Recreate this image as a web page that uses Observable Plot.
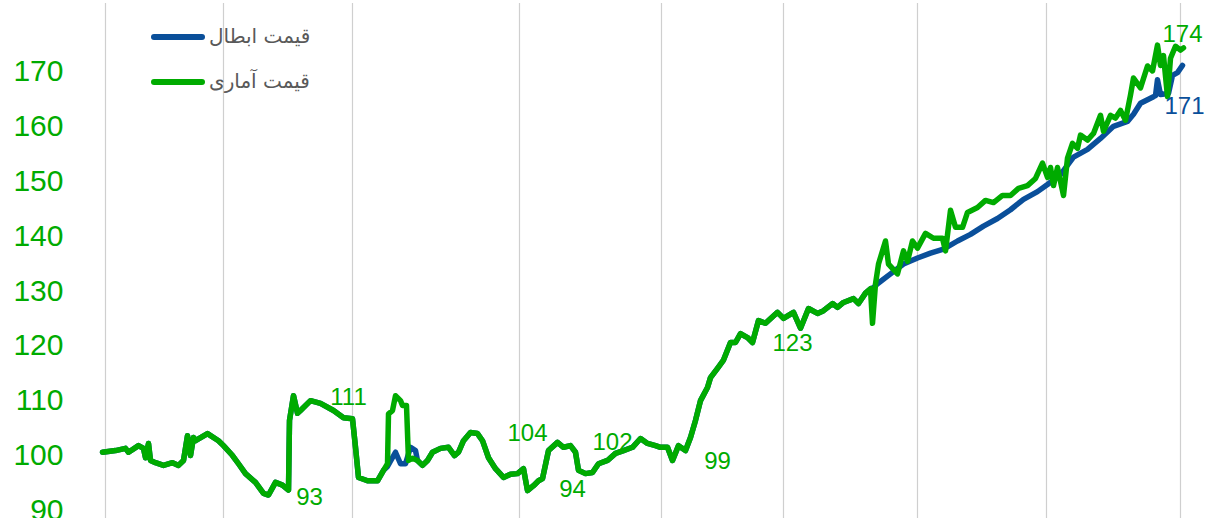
<!DOCTYPE html>
<html>
<head>
<meta charset="utf-8">
<script src="https://cdn.jsdelivr.net/npm/d3@7"></script>
<script src="https://cdn.jsdelivr.net/npm/@observablehq/plot@0.6"></script>
<style>
  html, body { margin: 0; padding: 0; background: #fff; }
  #wrap { position: relative; width: 1212px; height: 518px; font-family: "Liberation Sans", Arial, sans-serif; }
  .leg-line { position: absolute; height: 6px; border-radius: 3px; width: 54px; left: 151px; }
  .leg-text { position: absolute; left: 209px; font-family: "DejaVu Sans", "Liberation Sans", sans-serif; font-size: 20px; color: #595959; line-height: 22px; white-space: nowrap; }
</style>
</head>
<body>
<div id="wrap">
  <div id="chart"></div>
  <div class="leg-line" style="top:34px;background:#0a4f9a"></div>
  <div class="leg-text" dir="rtl" style="top:25px">قیمت ابطال</div>
  <div class="leg-line" style="top:79px;background:#00ab00"></div>
  <div class="leg-text" dir="rtl" style="top:70px">قیمت آماری</div>
</div>
<script>
// قیمت آماری (statistical price) – green series
const statDay = [0,13,23,26,36,41,43,46,48,53,61,70,76,81,85,88,91,93,105,116,121,130,136,143,153,161,166,173,180,186,187,191,195,198,208,218,231,241,250,253,256,265,275,281,285,286,290,293,298,300,304,306,310,315,320,325,330,338,346,352,356,361,368,375,380,386,393,401,408,415,421,425,431,436,440,446,455,461,468,473,476,483,490,496,505,513,521,530,538,545,553,558,565,570,576,583,588,593,598,605,608,615,621,628,633,638,645,650,656,663,675,681,691,698,706,715,721,730,735,741,751,756,763,768,770,773,776,783,786,795,801,805,810,815,823,831,840,843,848,853,860,865,875,883,891,900,908,916,925,933,940,945,948,951,955,961,965,970,975,978,985,991,998,1001,1008,1013,1018,1023,1028,1031,1038,1045,1050,1055,1058,1061,1065,1068,1073,1078,1081];
const statPrice = [100.6,100.9,101.3,100.6,101.8,101.3,99.6,102.2,99.1,98.7,98.2,98.7,98.2,99.1,103.6,100.0,103.3,102.7,104.0,102.7,101.8,100.0,98.5,96.7,95.1,93.1,92.8,95.1,94.6,93.7,106.4,110.9,107.7,108.2,110,109.5,108.2,106.9,106.7,101.5,96,95.4,95.4,97.3,98.5,107.6,108.2,110.9,110,109.1,109.1,99.1,99.5,99.1,98.2,99.1,100.6,101.3,101.5,100,100.6,102.7,104.2,104,102.7,99.6,97.6,96,96.6,96.7,97.6,93.6,94.5,95.4,95.8,100.9,102.4,101.5,101.8,100.6,97.3,96.7,96.9,98.5,99.1,100.4,100.9,101.5,103.1,102.2,101.8,101.5,101.5,99.1,101.8,100.9,103.3,106.4,110,112.4,114.2,115.9,117.4,120.6,120.6,122.2,121.5,120.6,124.6,124.1,126.1,125,126.1,123.2,126.8,125.9,126.4,127.7,127,127.9,128.6,127.7,129.6,130.4,124.1,131.3,134.9,139.1,134.9,133.1,137.3,135.4,139.1,137.8,140.5,139.6,139.6,137.3,144.7,141.6,141.6,144.3,145.2,146.5,146.1,147.4,147.4,148.7,149.2,150.5,153.3,150.7,152.5,149.2,152.5,147.4,154.2,156.9,156,158.4,157.5,158.7,162,159.1,162,161.5,162.9,161.1,165.7,168.8,167,171,170.1,174.8,171.1,172.9,165.4,172.4,174.6,173.9,174.3];

// قیمت ابطال (redemption price) – blue series
const cancelDay = [0,13,23,26,36,41,43,46,48,53,61,70,76,81,85,88,91,93,105,116,121,130,136,143,153,161,166,173,180,186,187,191,195,198,208,218,231,241,250,253,256,265,275,281,285,293,298,303,308,313,315,320,325,330,338,346,352,356,361,368,375,380,386,393,401,408,415,421,425,431,436,440,446,455,461,468,473,476,483,490,496,505,513,521,530,538,545,553,558,565,570,576,583,588,593,598,605,608,615,621,628,633,638,645,650,656,663,675,681,691,698,706,715,721,730,735,741,751,756,763,768,771,775,788,801,815,828,841,855,868,881,895,908,921,935,945,958,971,985,998,1011,1025,1031,1038,1051,1053,1055,1058,1066,1070,1075,1080];
const cancelPrice = [100.6,100.9,101.3,100.6,101.8,101.3,99.6,102.2,99.1,98.7,98.2,98.7,98.2,99.1,103.6,100.0,103.3,102.7,104.0,102.7,101.8,100.0,98.5,96.7,95.1,93.1,92.8,95.1,94.6,93.7,106.4,110.9,107.7,108.2,110,109.5,108.2,106.9,106.7,101.5,96,95.4,95.4,97.3,98,100.6,98.5,98.5,101.5,100.9,99.1,98.2,99.1,100.6,101.3,101.5,100,100.6,102.7,104.2,104,102.7,99.6,97.6,96,96.6,96.7,97.6,93.6,94.5,95.4,95.8,100.9,102.4,101.5,101.8,100.6,97.3,96.7,96.9,98.5,99.1,100.4,100.9,101.5,103.1,102.2,101.8,101.5,101.5,99.1,101.8,100.9,103.3,106.4,110,112.4,114.2,115.9,117.4,120.6,120.6,122.2,121.5,120.6,124.6,124.1,126.1,125,126.1,123.2,126.8,125.9,126.4,127.7,127,127.9,128.6,127.7,129.6,130.4,130.6,131.3,133.1,134.9,136,136.9,137.6,139.1,140.3,141.8,143.2,144.8,146.7,148.1,149.4,151.2,154.4,155.8,157.8,160,160.9,162.2,164.2,165.4,165.6,168.5,165.8,166,169.3,169.8,171.1];

// annotations
const statLabelDay = [207,246,425,470,510,615,690,1080];
const statLabelValue = [92.3,110.6,104.0,93.8,102.4,98.9,120.4,176.7];
const statLabelText = ["93","111","104","94","102","99","123","174"];
const cancelLabelDay = [1082];
const cancelLabelValue = [163.6];
const cancelLabelText = ["171"];

const gridDays = [3,121,250,417,559,681,815,944,1078];
const yTicks = [90,100,110,120,130,140,150,160,170];

const GREEN = "#00ab00";
const BLUE = "#0a4f9a";

const stat = statDay.map((d, i) => ({day: d, value: statPrice[i]}));
const cancel = cancelDay.map((d, i) => ({day: d, value: cancelPrice[i]}));
const statLabels = statLabelDay.map((d, i) => ({day: d, value: statLabelValue[i], text: statLabelText[i]}));
const cancelLabels = cancelLabelDay.map((d, i) => ({day: d, value: cancelLabelValue[i], text: cancelLabelText[i]}));

const chart = Plot.plot({
  width: 1212,
  height: 518,
  marginLeft: 70,
  marginRight: 0,
  marginTop: 3,
  marginBottom: 0,
  style: {fontFamily: "Liberation Sans, Arial, sans-serif", background: "#fff"},
  x: {domain: [-32, 1110], axis: null},
  y: {domain: [88.52, 182.39], axis: null},
  marks: [
    Plot.ruleX(gridDays, {stroke: "#cfcfcf", strokeWidth: 1.2}),
    Plot.axisY(yTicks, {tickSize: 0, tickPadding: 7, fontSize: 30, fill: GREEN, label: null}),
    Plot.line(cancel, {x: "day", y: "value", stroke: BLUE, strokeWidth: 5.5, strokeLinejoin: "round", strokeLinecap: "round"}),
    Plot.line(stat, {x: "day", y: "value", stroke: GREEN, strokeWidth: 5.5, strokeLinejoin: "round", strokeLinecap: "round"}),
    Plot.text(statLabels, {x: "day", y: "value", text: "text", fill: GREEN, fontSize: 24}),
    Plot.text(cancelLabels, {x: "day", y: "value", text: "text", fill: BLUE, fontSize: 24})
  ]
});
document.getElementById("chart").appendChild(chart);
</script>
</body>
</html>
